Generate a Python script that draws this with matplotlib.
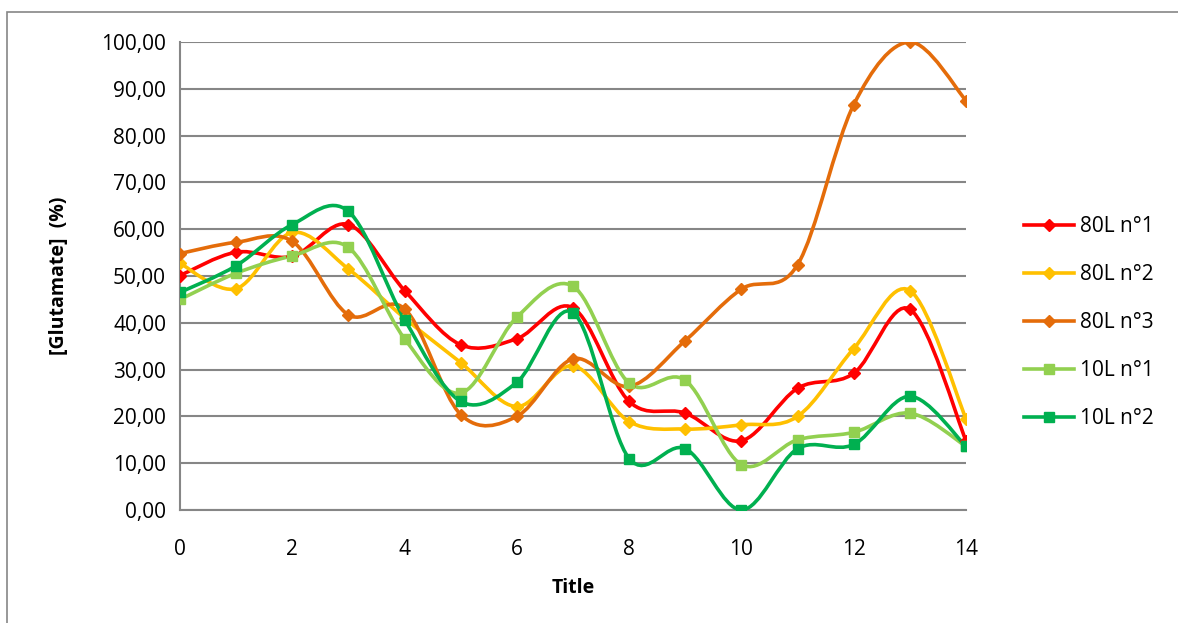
import matplotlib
matplotlib.use("Agg")
import matplotlib.pyplot as plt
import matplotlib.patches as patches
from matplotlib.path import Path
import numpy as np

plt.rcParams["font.family"] = ["Open Sans", "DejaVu Sans"]

# data
temps = [0, 1, 2, 3, 4, 5, 6, 7, 8, 9, 10, 11, 12, 13, 14]
series_names = ["80L n°1", "80L n°2", "80L n°3", "10L n°1", "10L n°2"]
v_80l_1 = [50.1, 55.1, 54.2, 61.0, 46.9, 35.3, 36.6, 43.2, 23.2, 20.7, 14.8, 26.0, 29.2, 42.9, 14.8]
v_80l_2 = [52.7, 47.3, 59.3, 51.5, 41.0, 31.5, 22.1, 30.8, 18.9, 17.3, 18.2, 20.0, 34.5, 46.9, 19.5]
v_80l_3 = [54.8, 57.2, 57.4, 41.7, 43.0, 20.4, 20.0, 32.3, 26.4, 36.2, 47.2, 52.4, 86.6, 100.0, 87.5]
v_10l_1 = [45.0, 50.6, 54.3, 56.1, 36.6, 25.0, 41.2, 47.8, 27.1, 27.7, 9.7, 15.0, 16.6, 20.7, 13.6]
v_10l_2 = [46.5, 52.2, 61.0, 63.8, 40.7, 23.2, 27.3, 42.2, 11.0, 13.1, 0.0, 13.1, 14.0, 24.3, 13.6]

COULEURS = ["#FF0000", "#FFC000", "#E46C0A", "#92D050", "#00B050"]
MARQUEURS = ["D", "D", "D", "s", "s"]
TAILLES = [6, 6, 6, 7.5, 7.5]


def chemin_lisse(x, y):
    # courbe lissée façon Excel (segments de Bézier cubiques)
    pts = np.column_stack([x, y]).astype(float)
    n = len(pts)
    verts = [pts[0]]
    codes = [Path.MOVETO]
    for i in range(n - 1):
        p0 = pts[i - 1] if i > 0 else pts[i]
        p1 = pts[i]
        p2 = pts[i + 1]
        p3 = pts[i + 2] if i + 2 < n else pts[i + 1]
        c1 = p1 + (p2 - p0) / 6.0
        c2 = p2 - (p3 - p1) / 6.0
        verts += [c1, c2, p2]
        codes += [Path.CURVE4] * 3
    return Path(verts, codes)


fig = plt.figure(figsize=(11.78, 6.23), dpi=100)
ax = fig.add_axes([180 / 1178, 1 - 510 / 623, (966 - 180) / 1178, (510 - 42) / 623])

# cadre du graphique
cadre = patches.Rectangle((7 / 1178, -0.1), 1.2, 1 - 12 / 623 + 0.1,
                          transform=fig.transFigure, fill=False,
                          edgecolor="#868686", lw=1.2)
fig.patches.append(cadre)

toutes = [v_80l_1, v_80l_2, v_80l_3, v_10l_1, v_10l_2]
for nom, vals, coul, mk, ms in zip(series_names, toutes, COULEURS, MARQUEURS, TAILLES):
    courbe = patches.PathPatch(chemin_lisse(temps, vals), facecolor="none",
                               edgecolor=coul, lw=2.6, zorder=3,
                               capstyle="round", joinstyle="round")
    ax.add_patch(courbe)
    ax.plot(temps, vals, linestyle="none", marker=mk, markersize=ms,
            color=coul, zorder=4)
    ax.plot([], [], color=coul, lw=2.6, marker=mk, markersize=ms, label=nom)

ax.set_xlim(0, 14)
ax.set_ylim(0, 100)
ax.set_xticks(range(0, 15, 2))
ax.set_yticks(range(0, 101, 10))
ax.set_yticklabels([f"{v},00" for v in range(0, 101, 10)])
ax.tick_params(length=0, labelsize=15)
ax.tick_params(axis="x", pad=21)
ax.tick_params(axis="y", pad=10)
ax.grid(axis="y", color="#868686", lw=1.5)
ax.set_axisbelow(True)
for side in ["top", "right"]:
    ax.spines[side].set_visible(False)
for side in ["left", "bottom"]:
    ax.spines[side].set_color("#868686")
    ax.spines[side].set_linewidth(1.5)

ax.set_xlabel("Title", fontsize=14, weight="bold", labelpad=13)
ax.set_ylabel("[Glutamate]  (%)", fontsize=14, weight="bold", labelpad=23)

ax.legend(loc="center left", bbox_to_anchor=(1.05, 0.40), frameon=False,
          fontsize=15, labelspacing=1.3, handlelength=2.4, handletextpad=0.3)

fig.savefig("out.png", dpi=100)
